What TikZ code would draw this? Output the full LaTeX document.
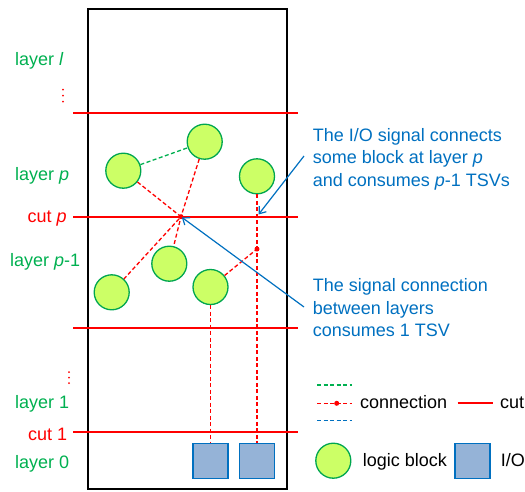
\documentclass[tikz,border=0pt]{standalone}
\usepackage{fontspec}
\setmainfont{Liberation Sans}
\usetikzlibrary{arrows.meta}
\definecolor{tgreen}{HTML}{00B050}
\definecolor{cgreen}{HTML}{00A650}
\definecolor{lime}{HTML}{CCFF66}
\definecolor{tblue}{HTML}{0070C0}
\definecolor{iofill}{HTML}{95B3D7}
\definecolor{cred}{HTML}{FF0000}
\tikzset{
  txt/.style={inner sep=0pt, font=\fontsize{18}{22}\selectfont},
  grn/.style={txt, text=tgreen, anchor=base west},
  rdt/.style={txt, text=cred, anchor=base west},
  blt/.style={txt, text=tblue, anchor=base west},
  blk/.style={circle, draw=cgreen, fill=lime, line width=1.3pt, minimum size=35pt, inner sep=0pt},
  iobox/.style={rectangle, draw=tblue, fill=iofill, line width=1.3pt, minimum size=35pt, inner sep=0pt},
  cutline/.style={cred, line width=2pt},
  conn/.style={cred, line width=1.3pt, dash pattern=on 4pt off 2.5pt},
  gconn/.style={conn, draw=tgreen},
  bconn/.style={conn, draw=tblue},
  barrow/.style={tblue, line width=1.2pt, -{Straight Barb[length=6pt,width=9pt]}},
  jdot/.style={circle, fill=cred, inner sep=0pt, minimum size=5pt},
  vdot/.style={circle, fill=cred, inner sep=0pt, minimum size=2pt},
}
\begin{document}
\begin{tikzpicture}[x=1pt, y=-1pt]
\useasboundingbox (0,0) rectangle (525,491);
% chip outline
\draw[black, line width=2pt] (88,9) rectangle (287,489);
% cut lines
\coordinate (c1l) at (73,113);  \coordinate (c1r) at (298,113);
\coordinate (c2l) at (73,217);  \coordinate (c2r) at (298,217);
\coordinate (c3l) at (73,328);  \coordinate (c3r) at (298,328);
\coordinate (c4l) at (73,432);  \coordinate (c4r) at (298,432);
\draw[cutline] (c1l) -- (c1r);
\draw[cutline] (c2l) -- (c2r);
\draw[cutline] (c3l) -- (c3r);
\draw[cutline] (c4l) -- (c4r);
% left labels
\node[grn] (Ll) at (15,65) {layer \textit{l}};
\node[vdot] (v1) at (63,89.5) {};
\node[vdot] (v2) at (63,95.5) {};
\node[vdot] (v3) at (63,101.5) {};
\node[grn] (Lp) at (15,180) {layer \textit{p}};
\node[rdt] (Cp) at (27.5,222) {cut \textit{p}};
\node[grn] (Lpm) at (10,266.5) {layer \textit{p}-1};
\node[vdot] (v4) at (69,372) {};
\node[vdot] (v5) at (69,377.5) {};
\node[vdot] (v6) at (69,383) {};
\node[grn] (L1) at (15,408) {layer 1};
\node[rdt] (C1) at (28,440) {cut 1};
\node[grn] (L0) at (15,468) {layer 0};
% blocks
\node[blk] (A) at (123.3,170.7) {};
\node[blk] (B) at (204.7,141.7) {};
\node[blk] (C) at (257,176.3) {};
\node[blk] (D) at (169.3,263.7) {};
\node[blk] (E) at (111.7,292.3) {};
\node[blk] (F) at (210.5,287) {};
\node[iobox] (io1) at (210.5,461.2) {};
\node[iobox] (io2) at (257,461.2) {};
\coordinate (j) at (181,216.7);
\coordinate (d2) at (257,249);
% connections
\draw[gconn] (A) -- (B);
\draw[conn] (A) -- (j) -- (E);
\draw[conn] (B) -- (j) -- (D);
\draw[conn] (C) -- (d2) -- (io2);
\draw[conn] (F) -- (d2);
\draw[conn] (F) -- (io1);
\node[jdot] (jd) at (j) {};
\node[jdot] (d2d) at (d2) {};
% annotations
\coordinate (a1s) at (304,156);
\coordinate (a1e) at (258.5,214.5);
\coordinate (a2s) at (304,307);
\draw[barrow] (a1s) -- (a1e);
\draw[barrow, shorten >=1pt] (a2s) -- (j);
\node[blt] (t1) at (312.7,141.7) {The I/O signal connects};
\node[blt] (t2) at (312.7,163.8) {some block at layer \textit{p}};
\node[blt] (t3) at (312.7,186) {and consumes \textit{p}-1 TSVs};
\node[blt] (t4) at (312.7,291.7) {The signal connection};
\node[blt] (t5) at (312.7,314) {between layers};
\node[blt] (t6) at (312.7,336.5) {consumes 1 TSV};
% legend
\coordinate (g1a) at (317,385);   \coordinate (g1b) at (352,385);
\coordinate (g2a) at (317,403.3); \coordinate (g2b) at (352,403.3);
\coordinate (g3a) at (317,420.7); \coordinate (g3b) at (352,420.7);
\draw[gconn] (g1a) -- (g1b);
\draw[conn] (g2a) -- (g2b);
\node[jdot] (gdot) at (336.7,403.3) {};
\draw[bconn] (g3a) -- (g3b);
\node[txt, anchor=base west] (lconn) at (360,408) {connection};
\coordinate (lca) at (457.7,403.3); \coordinate (lcb) at (492.7,403.3);
\draw[cutline] (lca) -- (lcb);
\node[txt, anchor=base west] (lcut) at (500,408) {cut};
\node[blk] (lblk) at (333.3,460.7) {};
\node[txt, anchor=base west] (llb) at (362.7,466) {logic block};
\node[iobox] (lio) at (472.5,461.3) {};
\node[txt, anchor=base west] (liot) at (500.7,466) {I/O};
\end{tikzpicture}
\end{document}
